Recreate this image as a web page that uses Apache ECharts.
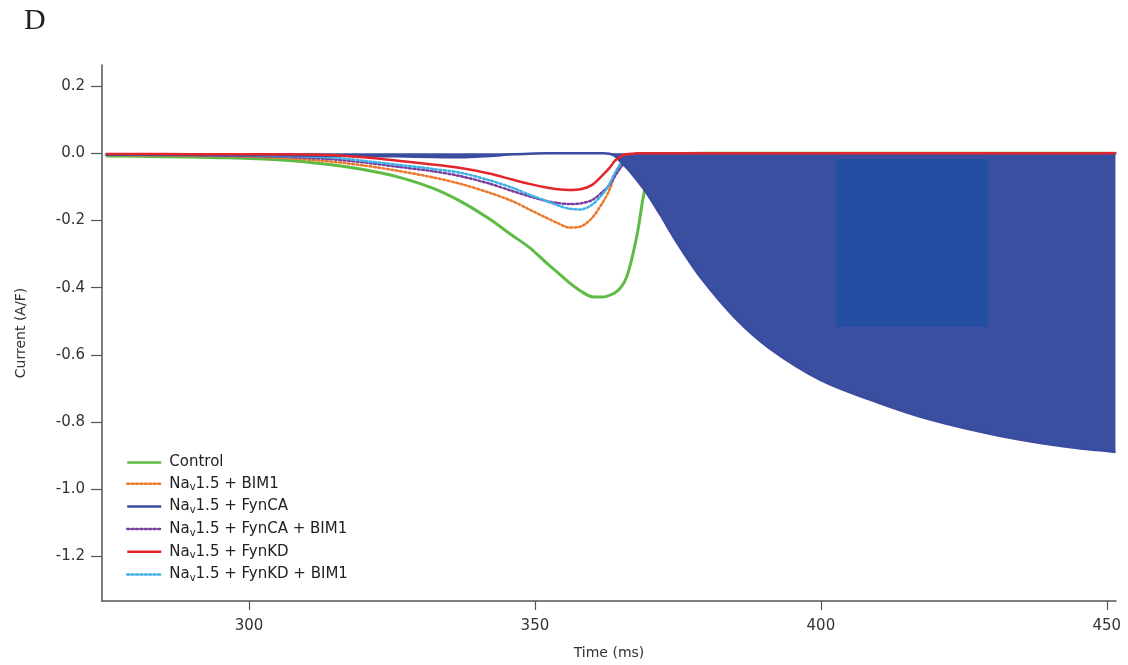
<!DOCTYPE html>
<html>
<head>
<meta charset="utf-8">
<title>Current (A/F) vs Time (ms)</title>
<script src="https://cdn.jsdelivr.net/npm/echarts@6/dist/echarts.min.js"></script>
<style>
  html, body { margin: 0; padding: 0; background: #ffffff; }
  #chart { width: 1128px; height: 665px; }
</style>
</head>
<body>
<div id="chart"></div>
<script>
// Sample times (ms) shared by every trace
const time = [275, 285, 295, 305, 314, 320, 326, 332, 337, 342, 346, 349, 352, 354, 356, 358, 360, 362, 363,
  364, 365, 366, 367, 368, 369, 370, 372, 375, 379, 385, 391, 400, 410, 419, 431, 443, 451.5];

// Current density traces (A/F)
const control = [-0.008, -0.010, -0.013, -0.019, -0.033, -0.048, -0.070, -0.103, -0.143, -0.195, -0.244, -0.280,
  -0.326, -0.355, -0.385, -0.410, -0.427, -0.428, -0.423, -0.415, -0.400, -0.370, -0.310, -0.230, -0.125, -0.060,
  -0.012, -0.002, 0, 0, 0, 0, 0, 0, 0, 0, 0];
const bim1 = [-0.005, -0.006, -0.008, -0.013, -0.024, -0.036, -0.052, -0.071, -0.091, -0.117, -0.142, -0.167,
  -0.192, -0.208, -0.221, -0.218, -0.192, -0.142, -0.110, -0.065, -0.030, -0.012, -0.004, -0.001, 0, 0,
  0, 0, 0, 0, 0, 0, 0, 0, 0, 0, 0];
const fynCA = [-0.004, -0.004, -0.005, -0.006, -0.007, -0.008, -0.009, -0.011, -0.012, -0.008, -0.003, -0.001,
  0, 0, 0, 0, 0, 0, -0.001, -0.008, -0.025, -0.042, -0.062, -0.083, -0.105, -0.130,
  -0.185, -0.270, -0.370, -0.490, -0.580, -0.675, -0.742, -0.792, -0.840, -0.874, -0.889];
const fynCABim1 = [-0.004, -0.005, -0.007, -0.010, -0.017, -0.027, -0.040, -0.053, -0.068, -0.090, -0.112, -0.128,
  -0.142, -0.148, -0.151, -0.149, -0.139, -0.112, -0.095, -0.068, -0.042, -0.020, -0.007, -0.002, 0, 0,
  0, 0, 0, 0, 0, 0, 0, 0, 0, 0, 0];
const fynKD = [-0.002, -0.002, -0.003, -0.003, -0.005, -0.012, -0.022, -0.033, -0.044, -0.060, -0.078, -0.091,
  -0.102, -0.107, -0.109, -0.107, -0.094, -0.062, -0.044, -0.022, -0.009, -0.003, -0.001, 0, 0, 0,
  0, 0, 0, 0, 0, 0, 0, 0, 0, 0, 0];
const fynKDBim1 = [-0.003, -0.004, -0.005, -0.008, -0.012, -0.022, -0.034, -0.046, -0.058, -0.080, -0.102, -0.123,
  -0.142, -0.155, -0.165, -0.167, -0.153, -0.118, -0.092, -0.058, -0.030, -0.012, -0.004, -0.001, 0, 0,
  0, 0, 0, 0, 0, 0, 0, 0, 0, 0, 0];

// Axis ticks
const xTicks = [300, 350, 400, 450];
const yTicks = [-1.2, -1.0, -0.8, -0.6, -0.4, -0.2, 0.0, 0.2];

// Darker inset patch on the FynCA trace (time range, current range)
const patchTime = [402.7, 429.3];
const patchCurrent = [-0.016, -0.517];

const pairs = (vals) => time.map((t, i) => [t, vals[i]]);

const FONT = '"DejaVu Sans", Verdana, sans-serif';

function trace(name, vals, color, width, dotted, z) {
  return {
    name: name,
    type: 'line',
    data: pairs(vals),
    showSymbol: false,
    symbol: 'none',
    smooth: 0.3,
    z: z,
    lineStyle: {
      color: color,
      width: width,
      type: dotted ? [2, 2.4] : 'solid',
      cap: dotted ? 'round' : 'butt'
    },
    itemStyle: { color: color }
  };
}

const fynCASeries = trace('Nav1.5 + FynCA', fynCA, '#3b4ca0', 2.5, false, 3);
fynCASeries.areaStyle = { color: '#3a4fa0', opacity: 1, origin: 'auto' };

// Inset patch drawn above the FynCA fill, placed through the axis scales
const patchSeries = {
  name: 'patch',
  type: 'custom',
  z: 3.5,
  silent: true,
  data: [[patchTime[0], patchTime[1], patchCurrent[0], patchCurrent[1]]],
  encode: { x: [0, 1], y: [2, 3] },
  renderItem: function (params, api) {
    const p0 = api.coord([api.value(0), api.value(2)]);
    const p1 = api.coord([api.value(1), api.value(3)]);
    return {
      type: 'rect',
      shape: {
        x: Math.min(p0[0], p1[0]),
        y: Math.min(p0[1], p1[1]),
        width: Math.abs(p1[0] - p0[0]),
        height: Math.abs(p1[1] - p0[1])
      },
      style: { fill: '#244ea2' }
    };
  }
};

const chart = echarts.init(document.getElementById('chart'), null, { renderer: 'canvas' });

chart.setOption({
  animation: false,
  backgroundColor: '#ffffff',
  graphic: [{
    type: 'text',
    left: 24,
    top: 6,
    style: {
      text: 'D',
      font: '30px "Liberation Serif", "DejaVu Serif", serif',
      fill: '#222222'
    }
  }],
  grid: { left: 102, right: 12, top: 65, bottom: 62 },
  legend: {
    orient: 'vertical',
    left: 121,
    top: 450,
    itemWidth: 34,
    itemHeight: 14,
    itemGap: 6.2,
    itemStyle: { opacity: 0 },
    lineStyle: { width: 2.5 },
    data: ['Control', 'Nav1.5 + BIM1', 'Nav1.5 + FynCA', 'Nav1.5 + FynCA + BIM1', 'Nav1.5 + FynKD', 'Nav1.5 + FynKD + BIM1'],
    formatter: function (name) {
      if (name.indexOf('Nav') === 0) {
        return '{n|Na}{s|v}{n|' + name.slice(3) + '}';
      }
      return '{n|' + name + '}';
    },
    textStyle: {
      padding: [0, 0, 0, 3],
      rich: {
        n: { fontFamily: FONT, fontSize: 15, color: '#222222', lineHeight: 18 },
        s: { fontFamily: FONT, fontSize: 10, color: '#222222', lineHeight: 8, verticalAlign: 'bottom' }
      }
    }
  },
  xAxis: {
    type: 'value',
    min: 274.3,
    max: 451.6,
    name: 'Time (ms)',
    nameLocation: 'middle',
    nameGap: 45,
    nameTextStyle: { fontFamily: FONT, fontSize: 14, color: '#333333' },
    axisLine: { show: true, onZero: false, lineStyle: { color: '#555555', width: 1.5 } },
    axisTick: { show: true, length: 9, customValues: xTicks, lineStyle: { color: '#555555', width: 1.2 } },
    axisLabel: {
      customValues: xTicks,
      margin: 18,
      fontFamily: FONT,
      fontSize: 15,
      color: '#333333'
    },
    splitLine: { show: false }
  },
  yAxis: {
    type: 'value',
    min: -1.333,
    max: 0.263,
    name: 'Current (A/F)',
    nameLocation: 'middle',
    nameGap: 74,
    nameTextStyle: { fontFamily: FONT, fontSize: 14, color: '#333333' },
    axisLine: { show: true, onZero: false, lineStyle: { color: '#555555', width: 1.5 } },
    axisTick: { show: true, length: 11, customValues: yTicks, lineStyle: { color: '#555555', width: 1.2 } },
    axisLabel: {
      customValues: yTicks,
      margin: 17,
      fontFamily: FONT,
      fontSize: 15,
      color: '#333333',
      formatter: function (v) { return v.toFixed(1); }
    },
    splitLine: { show: false }
  },
  series: [
    trace('Control', control, '#5dbb46', 3, false, 2),
    trace('Nav1.5 + BIM1', bim1, '#ec7a2e', 2.5, true, 2),
    trace('Nav1.5 + FynCA + BIM1', fynCABim1, '#7b3f9e', 2.5, true, 2),
    trace('Nav1.5 + FynKD + BIM1', fynKDBim1, '#3eb1e6', 2.5, true, 2),
    fynCASeries,
    patchSeries,
    trace('Nav1.5 + FynKD', fynKD, '#e3262b', 2.5, false, 4)
  ]
});
</script>
</body>
</html>
